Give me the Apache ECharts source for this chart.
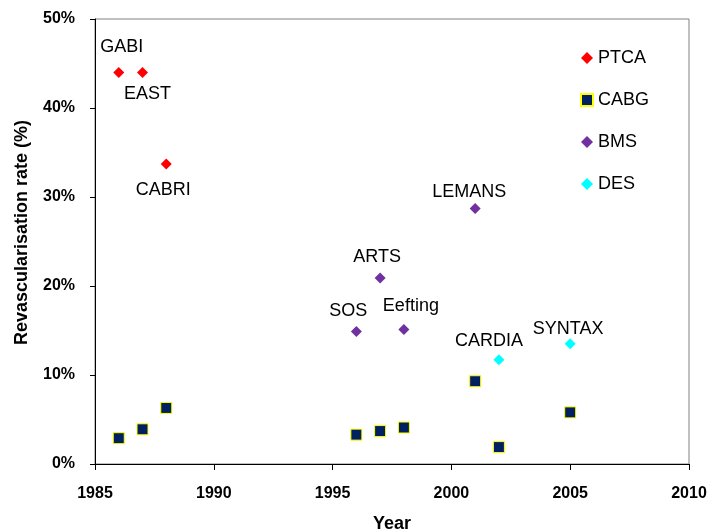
<!DOCTYPE html>
<html>
<head>
<meta charset="utf-8">
<script src="https://cdn.jsdelivr.net/npm/echarts@6/dist/echarts.min.js"></script>
<style>html,body{margin:0;padding:0;background:#fff}#c{width:716px;height:531px}</style>
</head>
<body>
<div id="c"></div>
<script>
// Data
const ptcaNames = ['GABI', 'EAST', 'CABRI'];
const ptcaYears = [1986, 1987, 1988];
const ptcaValues = [44.0, 44.0, 33.7];

const cabgYears = [1986, 1987, 1988, 1996, 1997, 1998, 2001, 2002, 2005];
const cabgValues = [2.9, 3.9, 6.3, 3.3, 3.7, 4.1, 9.3, 1.9, 5.8];

const bmsNames = ['SOS', 'ARTS', 'Eefting', 'LEMANS'];
const bmsYears = [1996, 1997, 1998, 2001];
const bmsValues = [14.9, 20.9, 15.1, 28.7];

const desNames = ['CARDIA', 'SYNTAX'];
const desYears = [2002, 2005];
const desValues = [11.7, 13.5];

const xTicks = [1985, 1990, 1995, 2000, 2005, 2010];
const yTicks = [0, 10, 20, 30, 40, 50];

// Styling (label offsets relative to marker centre)
const labelOffsets = {
  GABI: [3, -25], EAST: [5, 22], CABRI: [-3, 26],
  LEMANS: [-6, -17], ARTS: [-3, -21], SOS: [-8, -20], Eefting: [7, -24],
  CARDIA: [-10, -19], SYNTAX: [-2, -15]
};
const FONT = '"Liberation Sans", Arial, sans-serif';

function build(years, values, names) {
  return years.map((y, i) => {
    const item = { value: [y, values[i]] };
    if (names) {
      item.name = names[i];
      item.label = { show: true, position: 'inside', offset: labelOffsets[names[i]],
        formatter: names[i], color: '#000', fontSize: 18, fontFamily: FONT,
        textBorderWidth: 0, opacity: 1 };
    }
    return item;
  });
}

const chart = echarts.init(document.getElementById('c'), null, { renderer: 'canvas' });
chart.setOption({
  animation: false,
  backgroundColor: '#fff',
  grid: { left: 95, right: 27, top: 19, bottom: 67, outerBoundsMode: 'none', containLabel: false,
    show: true, borderColor: '#808080', borderWidth: 1, backgroundColor: 'transparent' },
  legend: {
    orient: 'vertical', left: 575, top: 44, itemWidth: 12, itemHeight: 12, itemGap: 24,
    textStyle: { fontSize: 18, fontFamily: FONT, color: '#000' },
    data: ['PTCA', 'CABG', 'BMS', 'DES']
  },
  xAxis: {
    type: 'value', min: xTicks[0], max: xTicks[xTicks.length - 1], interval: 5,
    name: 'Year', nameLocation: 'middle', nameGap: 51,
    nameTextStyle: { fontSize: 18, fontWeight: 'bold', fontFamily: FONT, color: '#000' },
    axisLine: { show: true, lineStyle: { color: '#000', width: 1 } },
    axisTick: { show: true, inside: false, length: 6, lineStyle: { color: '#000' } },
    axisLabel: { fontSize: 16, fontWeight: 'bold', fontFamily: FONT, color: '#000', margin: 22,
      formatter: v => String(v) },
    splitLine: { show: false }
  },
  yAxis: {
    type: 'value', min: yTicks[0], max: yTicks[yTicks.length - 1], interval: 10,
    name: 'Revascularisation rate (%)', nameLocation: 'middle', nameGap: 64,
    nameTextStyle: { fontSize: 18, fontWeight: 'bold', fontFamily: FONT, color: '#000', padding: [0, 0, 0, 18] },
    axisLine: { show: true, lineStyle: { color: '#000', width: 1 } },
    axisTick: { show: true, inside: false, length: 5, lineStyle: { color: '#000' } },
    axisLabel: { fontSize: 16, fontWeight: 'bold', fontFamily: FONT, color: '#000', margin: 20, formatter: '{value}%' },
    splitLine: { show: false }
  },
  series: [
    { name: 'PTCA', type: 'scatter', symbol: 'diamond', symbolSize: 11,
      itemStyle: { color: '#FF0000', opacity: 1 }, data: build(ptcaYears, ptcaValues, ptcaNames) },
    { name: 'CABG', type: 'scatter', symbol: 'rect', symbolSize: 11,
      itemStyle: { color: '#002060', borderColor: '#FFFF00', borderWidth: 1, opacity: 1 }, data: build(cabgYears, cabgValues, null) },
    { name: 'BMS', type: 'scatter', symbol: 'diamond', symbolSize: 11,
      itemStyle: { color: '#7030A0', opacity: 1 }, data: build(bmsYears, bmsValues, bmsNames) },
    { name: 'DES', type: 'scatter', symbol: 'diamond', symbolSize: 11,
      itemStyle: { color: '#00FFFF', opacity: 1 }, data: build(desYears, desValues, desNames) }
  ]
});
</script>
</body>
</html>
